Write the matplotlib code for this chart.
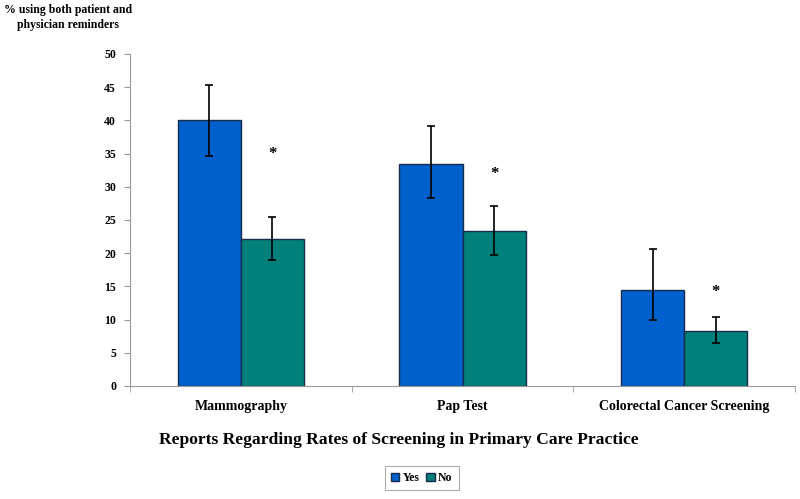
import matplotlib
matplotlib.use("Agg")
import matplotlib.pyplot as plt
import numpy as np

categories = ["Mammography", "Pap Test", "Colorectal Cancer Screening"]
yes_vals = [40.0, 33.5, 14.5]
yes_err_low = [5.3, 5.2, 4.6]
yes_err_high = [5.4, 5.7, 6.1]
no_vals = [22.1, 23.3, 8.3]
no_err_low = [3.1, 3.5, 1.9]
no_err_high = [3.4, 3.8, 2.1]
star_y = [35.0, 32.0, 14.2]
series = ["Yes", "No"]

plt.rcParams['font.family'] = ['Liberation Serif', 'DejaVu Serif']
plt.rcParams['font.weight'] = 'bold'

fig = plt.figure(figsize=(8, 4.99), dpi=100)
ax = fig.add_axes([0.1625, 0.2265, 0.83125, 0.6653])

x = np.arange(len(categories))
w = 0.285
edge = '#1a2a4a'
ax.bar(x - w/2, yes_vals, w, color='#0060CC', edgecolor=edge, linewidth=1, label=series[0],
       yerr=[yes_err_low, yes_err_high], error_kw=dict(ecolor='black', elinewidth=1.2, capsize=3, capthick=1.2))
ax.bar(x + w/2, no_vals, w, color='#00807A', edgecolor=edge, linewidth=1, label=series[1],
       yerr=[no_err_low, no_err_high], error_kw=dict(ecolor='black', elinewidth=1.2, capsize=3, capthick=1.2))
for xi, sy in zip(x, star_y):
    ax.text(xi + w/2, sy, "*", ha='center', va='center', fontsize=12, fontweight='bold')

ax.set_xlim(-0.5, len(categories) - 0.5)
ax.set_ylim(0, 50)
ax.set_yticks(np.arange(0, 51, 5))
ax.set_xticks(x)
ax.set_xticklabels(categories, fontsize=10, fontweight='bold')
ax.set_xticks(np.arange(-0.5, len(categories), 1), minor=True)
ax.tick_params(axis='x', which='major', length=0, pad=10)
ax.tick_params(axis='x', which='minor', length=4, color='#999999')
ax.tick_params(axis='y', labelsize=8.5, length=4, color='#999999', pad=6)
for lbl in ax.get_yticklabels():
    lbl.set_fontweight('bold')
for s in ['top', 'right']:
    ax.spines[s].set_visible(False)
ax.spines['left'].set_color('#999999')
ax.spines['bottom'].set_color('#999999')

fig.text(0.085, 0.992, "% using both patient and\nphysician reminders", ha='center', va='top',
         fontsize=8.5, fontweight='bold', linespacing=1.35)
fig.text(0.4983, 0.118, "Reports Regarding Rates of Screening in Primary Care Practice", ha='center',
         va='center', fontsize=12.6, fontweight='bold')

leg = fig.legend(loc='center', bbox_to_anchor=(0.527, 0.0425), ncol=2, fontsize=8.5,
                 handlelength=0.7, handleheight=0.7, handletextpad=0.3, columnspacing=0.6,
                 fancybox=False, edgecolor='#999999', borderpad=0.5)
leg.get_frame().set_linewidth(0.8)
for t in leg.get_texts():
    t.set_fontweight('bold')

fig.savefig("out.png", dpi=100)
